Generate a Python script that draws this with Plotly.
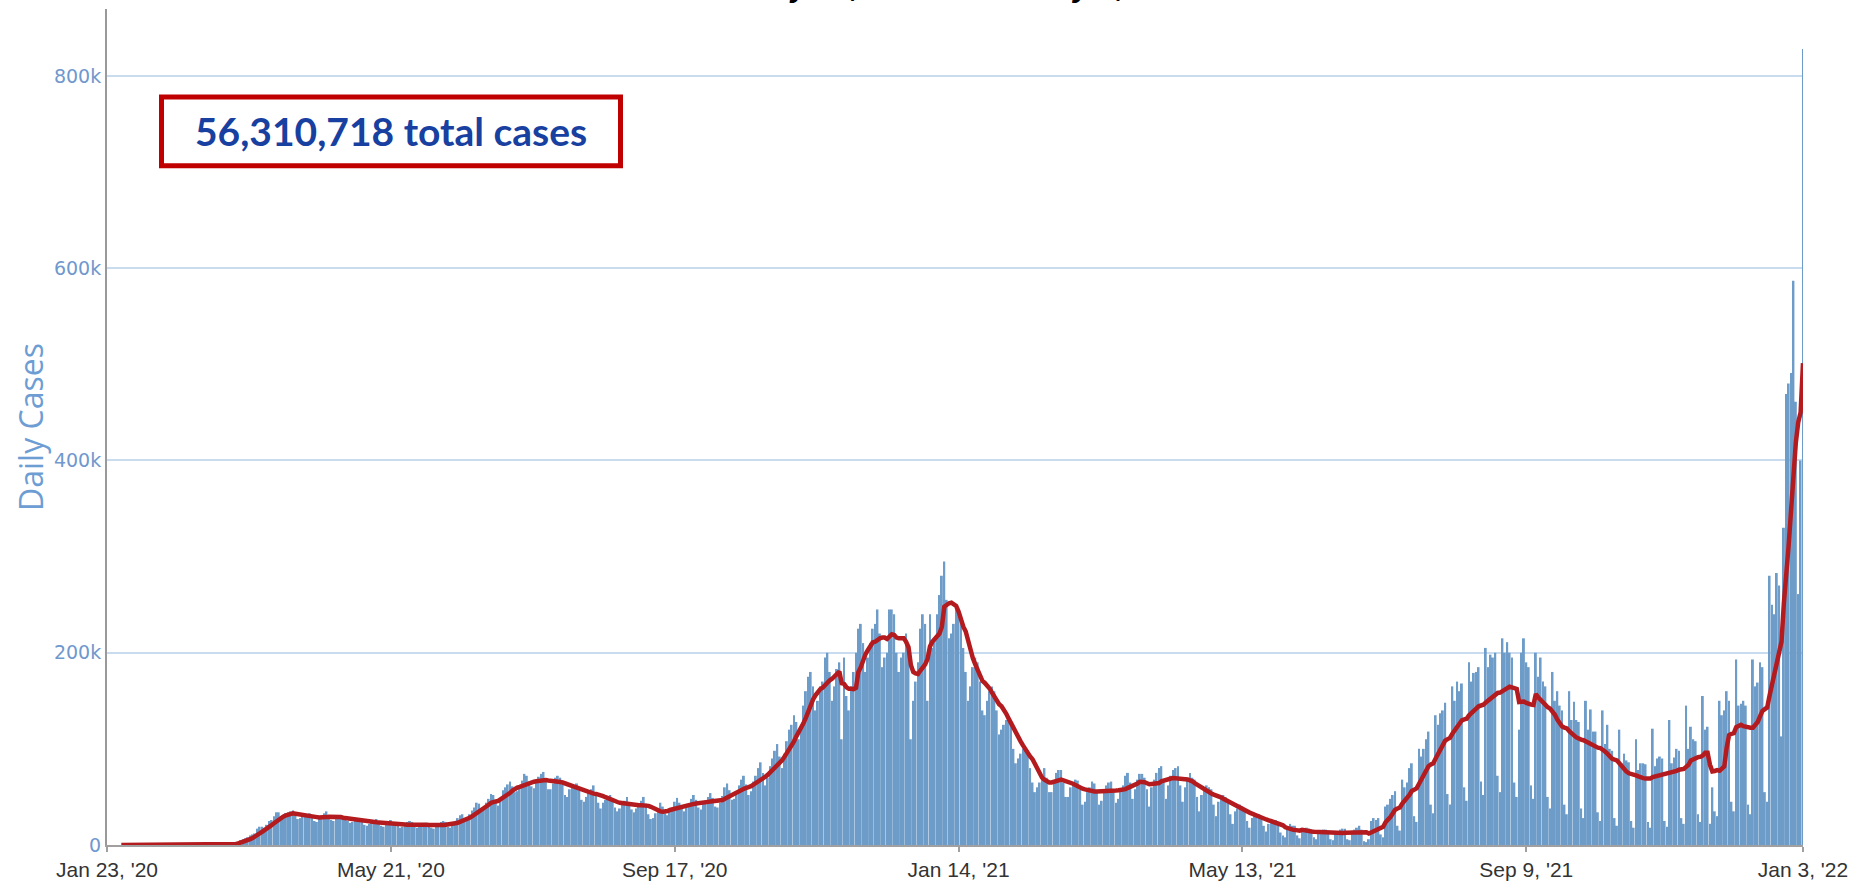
import pandas as pd
import plotly.graph_objects as go

# Daily reported cases (thousands), one row per week Thu..Wed, starting Thu Jan 23, 2020
daily_cases_2020_k = [
    0, 0, 0, 0, 0, 0, 0,
    0, 0, 0, 0, 0, 0, 0,
    0, 0, 0, 0, 0, 0, 0,
    0, 0, 0, 0, 0, 0, 0,
    0, 0, 0, 0, 0, 0, 0,
    0, 0, 0, 0, 0, 0.1, 0.1,
    0.1, 0.1, 0.1, 0.2, 0.2, 0.3, 0.4,
    0.5, 0.7, 0.9, 1.2, 1.8, 2.5, 3.5,
    5, 6, 7, 8, 10, 11, 12,
    17, 19, 19, 18, 21, 25, 26,
    30, 34, 34, 29, 30, 33, 34,
    35, 36, 31, 27, 28, 30, 31,
    31, 33, 29, 25, 24, 27, 30,
    33, 35, 31, 26, 25, 27, 29,
    31, 30, 28, 25, 23, 24, 26,
    28, 28, 26, 21, 20, 22, 23,
    26, 27, 25, 20, 19, 22, 23,
    26, 24, 22, 20, 18, 19, 20,
    24, 25, 24, 19, 18, 20, 21,
    23, 23, 22, 18, 17, 19, 21,
    24, 25, 24, 19, 18, 23, 25,
    28, 31, 32, 25, 25, 32, 36,
    39, 44, 43, 37, 38, 44, 48,
    53, 52, 45, 41, 48, 57, 60,
    63, 66, 61, 55, 56, 62, 67,
    74, 72, 66, 61, 59, 65, 71,
    74, 76, 67, 58, 58, 64, 70,
    72, 70, 63, 52, 50, 58, 62,
    62, 64, 57, 47, 45, 50, 55,
    58, 62, 55, 44, 38, 44, 47,
    50, 52, 46, 39, 35, 38, 44,
    46, 50, 43, 37, 34, 38, 42,
    46, 50, 43, 32, 27, 28, 33,
    38, 44, 40, 33, 31, 36, 38,
    45, 49, 44, 38, 35, 40, 42,
    48, 52, 47, 39, 37, 43, 46,
    50, 54, 49, 40, 39, 44, 51,
    60, 64, 57, 47, 48, 55, 62,
    68, 72, 63, 52, 56, 66, 72,
    80, 86, 75, 62, 70, 82, 90,
    98, 105, 92, 80, 95, 108, 120,
    125, 135, 128, 110, 125, 145, 160,
    175, 180, 165, 140, 150, 165, 170,
    195, 200, 180, 150, 165, 183, 190,
    110, 195, 155, 140, 165, 180, 200,
    225, 230, 210, 180, 195, 210, 225,
    230, 245, 220, 185, 195, 200, 245,
    245, 240, 200, 180, 195, 200, 220,
    205, 110, 150, 170, 190, 225, 240,
]

# Continues from Thu Dec 31, 2020 to Mon Jan 3, 2022
daily_cases_2021_k = [
    230, 150, 240, 205, 215, 240, 260,
    280, 295, 255, 215, 220, 230, 245,
    240, 235, 205, 180, 150, 165, 185,
    195, 190, 170, 140, 135, 150, 160,
    165, 160, 140, 115, 120, 125, 130,
    130, 125, 100, 85, 90, 95, 100,
    100, 95, 80, 65, 55, 60, 65,
    70, 80, 70, 55, 55, 65, 75,
    78, 78, 65, 50, 50, 60, 65,
    68, 67, 58, 42, 45, 55, 60,
    66, 64, 57, 42, 46, 55, 62,
    65, 66, 58, 44, 48, 57, 62,
    72, 75, 65, 48, 58, 68, 74,
    74, 70, 58, 40, 60, 68, 75,
    80, 82, 65, 48, 62, 72, 78,
    80, 82, 62, 45, 60, 70, 75,
    70, 68, 50, 35, 52, 58, 62,
    60, 58, 42, 30, 45, 50, 52,
    50, 48, 32, 22, 35, 38, 42,
    40, 38, 25, 18, 28, 30, 32,
    32, 30, 20, 14, 22, 24, 26,
    26, 22, 13, 10, 8, 17, 22,
    20, 20, 10, 7, 14, 16, 18,
    17, 16, 8, 6, 13, 14, 16,
    16, 15, 6, 5, 14, 14, 16,
    17, 17, 6, 5, 15, 16, 18,
    20, 16, 4, 3, 6, 25, 28,
    26, 28, 11, 8, 40, 42, 48,
    52, 56, 20, 15, 68, 60, 65,
    80, 85, 30, 24, 100, 92, 100,
    110, 118, 42, 33, 135, 125, 137,
    140, 148, 53, 42, 165, 150, 170,
    160, 168, 60, 46, 190, 170, 179,
    180, 185, 66, 52, 205, 185, 198,
    195, 200, 72, 55, 215, 200, 211,
    200, 195, 65, 50, 120, 200, 215,
    190, 185, 62, 48, 200, 175, 195,
    170, 165, 50, 38, 180, 150, 160,
    145, 140, 42, 32, 160, 130, 149,
    130, 128, 38, 28, 150, 120, 141,
    118, 118, 34, 25, 140, 105, 125,
    100, 98, 28, 20, 120, 85, 95,
    88, 86, 25, 18, 110, 78, 85,
    85, 84, 24, 18, 121, 82, 90,
    92, 90, 25, 19, 130, 85, 91,
    100, 98, 28, 22, 145, 100, 123,
    110, 108, 32, 24, 155, 120, 123,
    22, 60, 35, 30, 150, 135, 140,
    160, 150, 45, 35, 193, 145, 147,
    150, 145, 42, 32, 193, 165, 169,
    190, 185, 55, 45, 280, 250, 240,
    283, 270, 113, 330, 469, 480, 491,
    587, 461, 261, 400, 828,
]

start_date = "2020-01-23"
end_date = "2022-01-03"
tick_dates = ["2020-01-23", "2020-05-21", "2020-09-17", "2021-01-14",
              "2021-05-13", "2021-09-09", "2022-01-03"]
tick_labels = ["Jan 23, '20", "May 21, '20", "Sep 17, '20", "Jan 14, '21",
               "May 13, '21", "Sep 9, '21", "Jan 3, '22"]
y_ticks = [0, 200000, 400000, 600000, 800000]
y_tick_labels = ["0", "200k", "400k", "600k", "800k"]
total_text = "56,310,718 total cases"
title_text = "January 23, 2020 \u2013 January 3, 2022"

cases = pd.Series([v * 1000 for v in daily_cases_2020_k + daily_cases_2021_k])
dates = pd.date_range(start_date, periods=len(cases), freq="D")
avg7 = cases.rolling(7).mean()

fig = go.Figure()
fig.add_trace(go.Bar(x=dates, y=cases, marker=dict(color="#6e9cc9", line=dict(width=0)),
                     hoverinfo="skip"))
fig.add_trace(go.Scatter(x=dates, y=avg7, mode="lines",
                         line=dict(color="#b31b1f", width=4.5), hoverinfo="skip"))

PL, PR, PT, PB = 107, 71, 9, 31
W, H = 1874, 890
pw, ph = W - PL - PR, H - PT - PB

def px_x(x):
    return (x - PL) / pw

def px_y(y):
    return 1 - (y - PT) / ph

fig.update_layout(
    width=W, height=H,
    margin=dict(l=PL, r=PR, t=PT, b=PB, pad=0),
    plot_bgcolor="white", paper_bgcolor="white",
    showlegend=False, bargap=0.2,
    xaxis=dict(type="date", range=[start_date, end_date],
               tickvals=tick_dates, ticktext=tick_labels,
               showgrid=False, zeroline=False,
               showline=True, linecolor="#a0a0a0", linewidth=2,
               ticks="outside", ticklen=5, tickcolor="#a0a0a0", tickwidth=1.5,
               tickfont=dict(family="Liberation Sans, Arial", size=21, color="#333333")),
    yaxis=dict(range=[0, 869600], tickvals=y_ticks, ticktext=y_tick_labels,
               showgrid=True, gridcolor="#c9dcef", gridwidth=1.5, zeroline=False,
               showline=True, linecolor="#999999", linewidth=2,
               ticks="", tickfont=dict(family="DejaVu Sans", size=19, color="#6f98cd")),
)

fig.add_shape(type="rect", xref="paper", yref="paper",
              x0=px_x(161.5), x1=px_x(620.5), y0=px_y(168.5), y1=px_y(98.5),
              line=dict(color="#c00000", width=5), fillcolor="white", layer="above")
fig.add_annotation(xref="paper", yref="paper", x=px_x(391), y=px_y(133.5),
                   xanchor="center", yanchor="middle", showarrow=False,
                   text="<b>" + total_text + "</b>",
                   font=dict(family="Lato", size=39, color="#1740a0"))
fig.add_annotation(xref="paper", yref="paper", x=px_x(30), y=0.5,
                   xanchor="center", yanchor="middle", showarrow=False, textangle=-90,
                   text="Daily Cases",
                   font=dict(family="Open Sans", size=32, color="#6d9dd3"))
fig.add_annotation(xref="paper", yref="paper", x=px_x(946), y=px_y(3.5),
                   xanchor="center", yanchor="bottom", showarrow=False, borderpad=0,
                   text="<b><i>" + title_text + "</i></b>",
                   font=dict(family="Liberation Sans, Arial", size=31, color="#000000"))

fig.write_html("out.html", config={"displayModeBar": False},
               post_script="document.body.style.margin='0';")
